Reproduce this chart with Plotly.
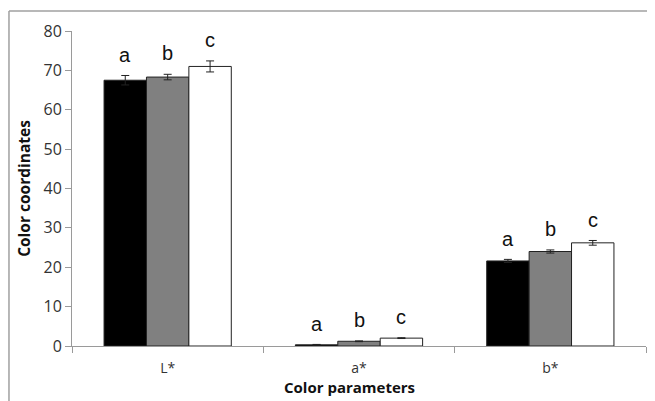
import plotly.graph_objects as go

categories = ["L*", "a*", "b*"]
series_names = ["Sample 1", "Sample 2", "Sample 3"]
values_1 = [67.5, 0.3, 21.6]
values_2 = [68.3, 1.2, 24.0]
values_3 = [71.0, 2.0, 26.2]
errors_1 = [1.2, 0.1, 0.4]
errors_2 = [0.7, 0.1, 0.4]
errors_3 = [1.4, 0.1, 0.6]
letters_1 = ["a", "a", "a"]
letters_2 = ["b", "b", "b"]
letters_3 = ["c", "c", "c"]
y_ticks = [0, 10, 20, 30, 40, 50, 60, 70, 80]

fills = ["#000000", "#808080", "#ffffff"]
all_vals = [values_1, values_2, values_3]
all_errs = [errors_1, errors_2, errors_3]
all_letters = [letters_1, letters_2, letters_3]

fig = go.Figure()
for name, vals, errs, fill in zip(series_names, all_vals, all_errs, fills):
    fig.add_trace(go.Bar(
        x=categories, y=vals, name=name,
        marker=dict(color=fill, line=dict(color="#222222", width=1)),
        error_y=dict(type="data", array=errs, visible=True, color="#222222",
                     thickness=1, width=4),
        offsetgroup=name,
    ))

n = len(series_names)
bargap = 0.335
group_w = 1 - bargap
bar_w = group_w / n
for i, (vals, errs, lets) in enumerate(zip(all_vals, all_errs, all_letters)):
    for j, cat in enumerate(categories):
        xoff = -group_w / 2 + bar_w * (i + 0.5)
        fig.add_annotation(
            x=j + xoff, y=vals[j] + errs[j] + 2.0, xref="x", yref="y",
            text=lets[j], showarrow=False, yanchor="bottom",
            font=dict(family="Liberation Sans, Arial", size=20, color="#111111"),
        )

# x-axis title as annotation (slightly left of centre as in the reference)
fig.add_annotation(
    x=0.483, y=-0.094, xref="paper", yref="paper", yanchor="top",
    text="<b>Color parameters</b>", showarrow=False, borderpad=0,
    font=dict(size=15, family="Open Sans, DejaVu Sans", color="#111111"),
)

fig.update_layout(
    width=647, height=393,
    margin=dict(l=64, r=9, t=23, b=55, autoexpand=False),
    paper_bgcolor="white", plot_bgcolor="white",
    barmode="group", bargap=bargap, bargroupgap=0,
    showlegend=False,
    font=dict(family="Open Sans, DejaVu Sans", color="#222222"),
)
fig.update_xaxes(
    type="category", showgrid=False, showline=True, linecolor="#9a9a9a", linewidth=1,
    ticks="outside", tickson="boundaries", ticklen=6, tickcolor="#9a9a9a",
    automargin=False, ticklabelstandoff=9,
    tickfont=dict(size=14, family="Open Sans, DejaVu Sans", color="#333333"),
)
fig.update_yaxes(
    range=[0, 80], tickvals=y_ticks, showgrid=False, zeroline=False,
    showline=True, linecolor="#9a9a9a", linewidth=1,
    ticks="outside", ticklen=6, tickcolor="#9a9a9a",
    automargin=False,
    tickfont=dict(size=16, family="Open Sans, DejaVu Sans", color="#333333"),
    title=dict(text="<b>Color coordinates</b>", standoff=9,
               font=dict(size=15.5, family="Open Sans, DejaVu Sans", color="#111111")),
)

fig.add_shape(type="line", xref="paper", yref="paper", x0=-0.1098, x1=1.2,
              y0=1.0635, y1=1.0635, line=dict(color="#a0a0a0", width=1.5))
fig.add_shape(type="line", xref="paper", yref="paper", x0=-0.1098, x1=-0.1098,
              y0=-0.3, y1=1.0635, line=dict(color="#a0a0a0", width=1.5))

fig.write_html("out.html")
